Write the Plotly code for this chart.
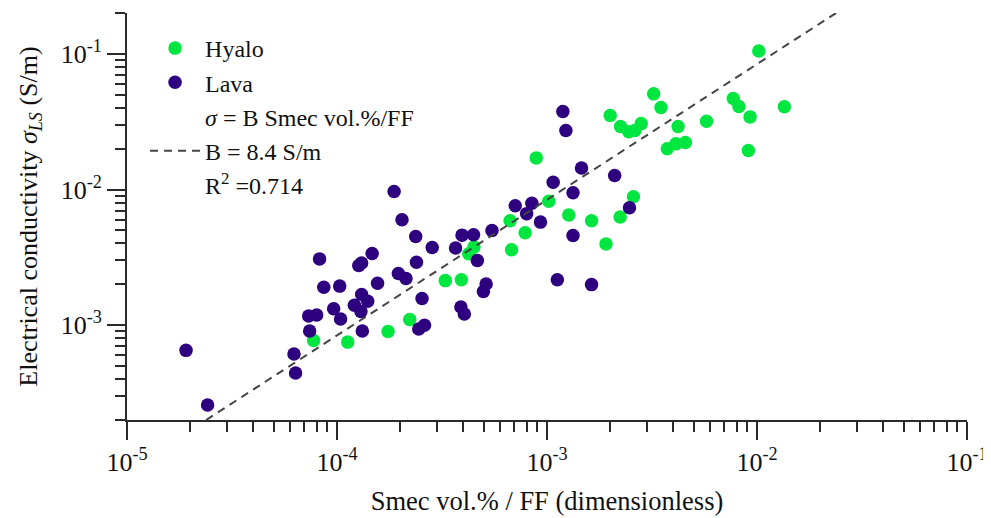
import plotly.graph_objects as go

# ---- data ----
hyalo_x = [7.74e-5, 1.125e-4, 1.75e-4, 2.22e-4, 3.28e-4, 3.91e-4, 4.24e-4, 4.49e-4,
           6.67e-4, 6.78e-4, 7.87e-4, 8.89e-4, 1.02e-3, 1.27e-3, 1.63e-3, 1.91e-3,
           2.23e-3, 2.58e-3, 2.00e-3, 2.24e-3, 2.45e-3, 2.62e-3, 2.81e-3, 3.22e-3,
           3.49e-3, 3.74e-3, 4.11e-3, 4.21e-3, 4.56e-3, 5.75e-3, 7.71e-3, 8.20e-3,
           9.10e-3, 9.27e-3, 1.02e-2, 1.35e-2]
hyalo_y = [7.71e-4, 7.50e-4, 8.99e-4, 1.10e-3, 2.13e-3, 2.16e-3, 3.36e-3, 3.77e-3,
           5.88e-3, 3.60e-3, 4.80e-3, 1.71e-2, 8.18e-3, 6.49e-3, 5.88e-3, 3.96e-3,
           6.27e-3, 8.83e-3, 3.51e-2, 2.91e-2, 2.67e-2, 2.72e-2, 3.06e-2, 5.07e-2,
           4.02e-2, 2.00e-2, 2.17e-2, 2.91e-2, 2.22e-2, 3.19e-2, 4.69e-2, 4.09e-2,
           1.94e-2, 3.43e-2, 1.05e-1, 4.07e-2]

lava_x = [1.91e-5, 2.42e-5, 6.24e-5, 6.35e-5, 7.41e-5, 7.33e-5, 8.00e-5, 8.26e-5,
          8.65e-5, 9.64e-5, 1.03e-4, 1.04e-4, 1.21e-4, 1.30e-4, 1.31e-4, 1.40e-4,
          1.27e-4, 1.31e-4, 1.47e-4, 1.56e-4, 1.32e-4, 1.87e-4, 2.04e-4, 2.37e-4,
          2.84e-4, 1.96e-4, 2.13e-4, 2.39e-4, 2.54e-4, 2.45e-4, 2.61e-4, 3.67e-4,
          3.94e-4, 3.89e-4, 4.04e-4, 4.47e-4, 4.66e-4, 5.47e-4, 4.98e-4, 5.13e-4,
          7.06e-4, 8.47e-4, 8.00e-4, 9.31e-4, 1.07e-3, 1.33e-3, 1.46e-3, 2.10e-3,
          1.19e-3, 1.23e-3, 1.33e-3, 1.12e-3, 1.63e-3, 2.47e-3]
lava_y = [6.52e-4, 2.58e-4, 6.12e-4, 4.44e-4, 9.05e-4, 1.17e-3, 1.19e-3, 3.08e-3,
          1.90e-3, 1.32e-3, 1.94e-3, 1.11e-3, 1.40e-3, 1.26e-3, 1.68e-3, 1.50e-3,
          2.75e-3, 2.87e-3, 3.37e-3, 2.04e-3, 9.05e-4, 9.66e-3, 5.98e-3, 4.51e-3,
          3.74e-3, 2.40e-3, 2.21e-3, 2.91e-3, 1.57e-3, 9.36e-4, 1.00e-3, 3.71e-3,
          4.61e-3, 1.36e-3, 1.21e-3, 4.64e-3, 3.00e-3, 4.99e-3, 1.77e-3, 2.01e-3,
          7.60e-3, 7.91e-3, 6.64e-3, 5.75e-3, 1.13e-2, 9.48e-3, 1.44e-2, 1.27e-2,
          3.76e-2, 2.72e-2, 4.58e-3, 2.16e-3, 1.99e-3, 7.33e-3]

B = 8.4            # S/m
R2 = 0.714
fit_x = [2.38e-5, 2.38e-2]
fit_y = [B * v for v in fit_x]

x_tickvals = [1e-5, 1e-4, 1e-3, 1e-2, 1e-1]
x_ticktext = ["10<sup>-5</sup>", "10<sup>-4</sup>", "10<sup>-3</sup>", "10<sup>-2</sup>", "10<sup>-1</sup>"]
y_tickvals = [1e-3, 1e-2, 1e-1]
y_ticktext = ["10<sup>-3</sup>", "10<sup>-2</sup>", "10<sup>-1</sup>"]

GREEN = "#00E640"
PURPLE = "#2E0080"
FONT = "Liberation Serif"
AX = "#2a2a2a"

fig = go.Figure()
fig.add_trace(go.Scatter(x=hyalo_x, y=hyalo_y, mode="markers", name="Hyalo",
                         legendrank=1,
                         marker=dict(color=GREEN, size=13.5, line=dict(width=0))))
fig.add_trace(go.Scatter(x=lava_x, y=lava_y, mode="markers", name="Lava",
                         legendrank=2,
                         marker=dict(color=PURPLE, size=13.5, line=dict(width=0))))
fig.add_trace(go.Scatter(x=[None], y=[None], mode="markers", name="<i>σ</i> = B Smec vol.%/FF",
                         legendrank=3,
                         marker=dict(color="rgba(0,0,0,0)", size=1)))
fig.add_trace(go.Scatter(x=fit_x, y=fit_y, mode="lines", name=f"B = {B} S/m",
                         legendrank=4,
                         line=dict(color="#444444", width=2, dash="8px,6px")))
fig.add_trace(go.Scatter(x=[None], y=[None], mode="markers", name=f"R<sup>2</sup> ={R2}",
                         legendrank=5,
                         marker=dict(color="rgba(0,0,0,0)", size=1)))

axis_common = dict(type="log", showgrid=False, zeroline=False, showline=True,
                   linecolor=AX, linewidth=2, ticks="outside", ticklen=18,
                   tickwidth=2, tickcolor=AX, mirror=False, automargin=False,
                   tickfont=dict(family=FONT, size=26, color="#111"),
                   minor=dict(ticks="outside", ticklen=10, tickwidth=2,
                              tickcolor=AX, dtick="D1", showgrid=False))

# the page body adds an 8px offset, so the figure is sized to fit the window
fig.update_layout(
    width=983, height=510,
    margin=dict(l=119, r=24, t=5, b=98),
    paper_bgcolor="white", plot_bgcolor="white",
    font=dict(family=FONT, size=24, color="#111"),
    showlegend=True,
    legend=dict(x=0.0215, y=0.968, xanchor="left", yanchor="top",
                bgcolor="rgba(0,0,0,0)", borderwidth=0,
                font=dict(family=FONT, size=24, color="#111"),
                itemwidth=50, traceorder="normal"),
    xaxis=dict(**axis_common, range=[-5, -1],
               tickvals=x_tickvals, ticktext=x_ticktext,
               title=dict(text="Smec vol.% / FF (dimensionless)",
                          font=dict(family=FONT, size=26.5), standoff=15)),
    yaxis=dict(**axis_common, range=[-3.699, -0.699],
               tickvals=y_tickvals, ticktext=y_ticktext,
               title=dict(text="Electrical conductivity <i>σ</i><sub><i>LS</i></sub> (S/m)",
                          font=dict(family=FONT, size=26), standoff=16)),
)

fig.write_html("out.html")
